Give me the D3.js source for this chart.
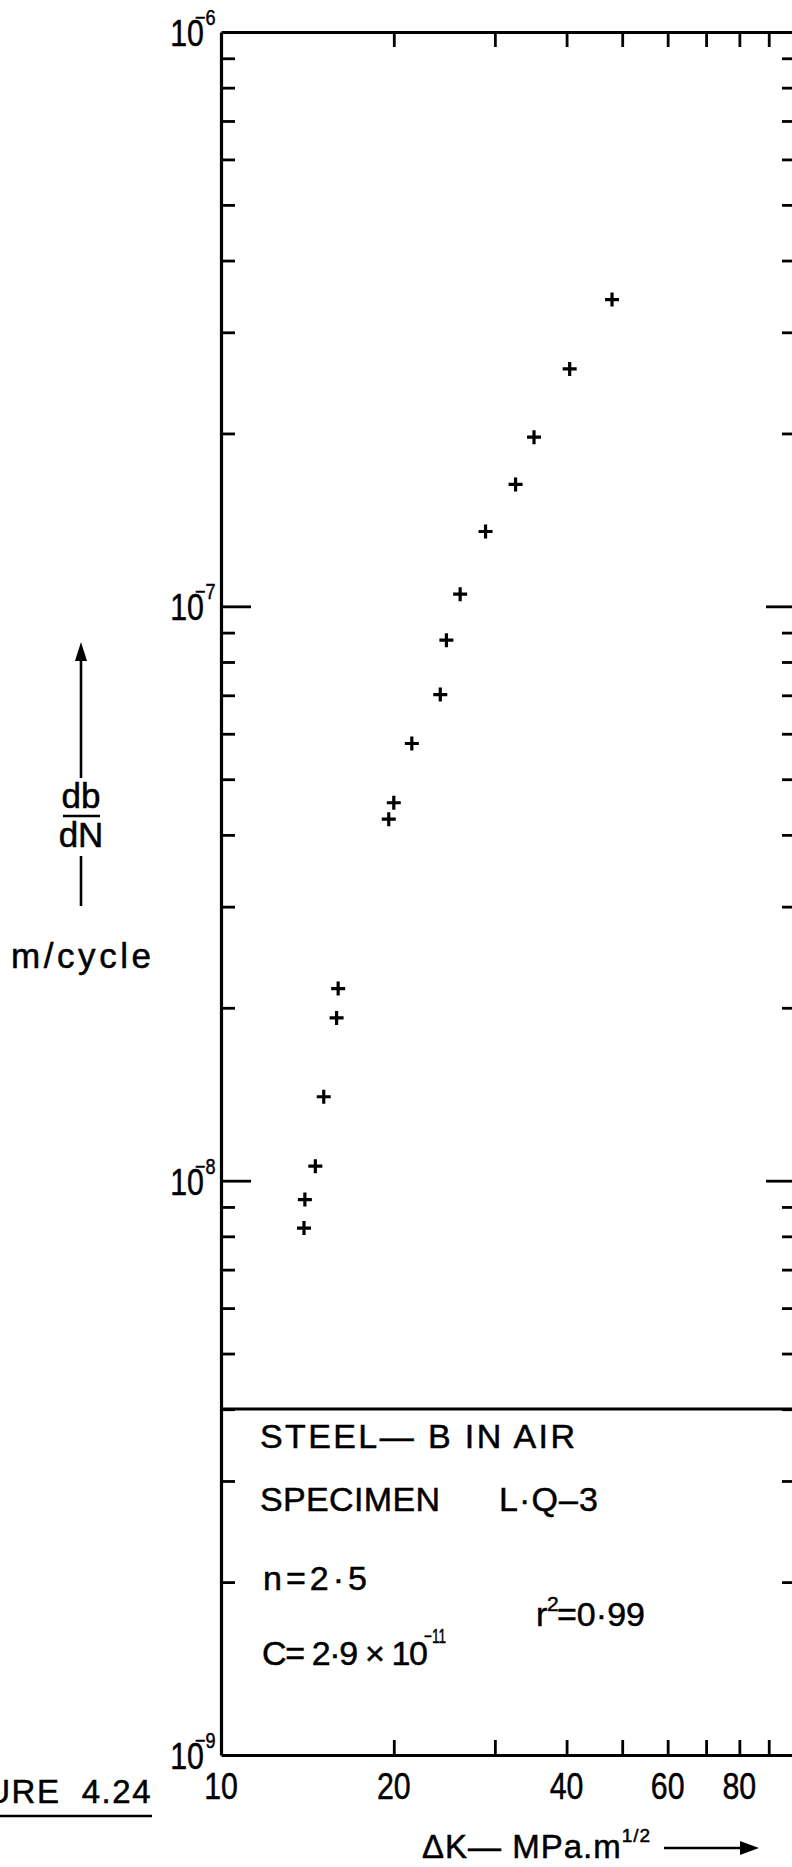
<!DOCTYPE html>
<html><head><meta charset="utf-8">
<script src="https://cdn.jsdelivr.net/npm/d3@7"></script>
<style>
html,body{margin:0;padding:0;background:#fff;}
svg{display:block;}
text{font-family:"Liberation Sans", Arial, sans-serif; fill:#000; stroke:#000; stroke-width:0.5;}
</style></head><body>
<svg id="chart" width="792" height="1867"></svg>
<script>
// Stress intensity range ΔK (MPa·m^1/2) and crack growth rate db/dN (m/cycle)
const deltaK = [48.0, 40.5, 35.1, 32.6, 28.9, 26.1, 24.7, 24.1, 21.5, 20.0, 19.6, 16.0, 15.9, 15.1, 14.6, 14.0, 13.95];
const growthRate = [3.42e-7, 2.59e-7, 1.97e-7, 1.63e-7, 1.35e-7, 1.05e-7, 8.73e-8, 7.02e-8, 5.77e-8, 4.55e-8, 4.26e-8, 2.16e-8, 1.92e-8, 1.40e-8, 1.06e-8, 9.27e-9, 8.27e-9];

// Axis labelling
const xTickLabels = [10, 20, 40, 60, 80];
const xMinorTicks = [20, 30, 40, 50, 60, 70, 80, 90];
const yDecadeExponents = [-6, -7, -8, -9];
const yMajorTicks = [1e-7, 1e-8];

// Fit summary text
const materialLine = "STEEL— B IN AIR";
const specimenName = "SPECIMEN";
const specimenId = "L·Q–3";
const exponentText = "n=2·5";
const coefficientText = "C= 2·9 × 10";
const coefficientPower = "−11";
const correlationValue = "=0·99";

const svg = d3.select("#chart");
const plotLeft = 221, plotRight = 795, plotTop = 32, plotBottom = 1755;

const x = d3.scaleLog().domain([10, 100]).range([plotLeft, plotRight]);
const y = d3.scaleLog().domain([1e-9, 1e-6]).range([plotBottom, plotTop]);

// minor ticks 2..9 in each decade of the rate axis
const yTicks = [];
[1e-9, 1e-8, 1e-7].forEach(d => { for (let k = 2; k <= 9; k++) yTicks.push(d * k); });
const yAllTicks = yTicks.concat(yMajorTicks);
const isMajor = v => yMajorTicks.some(m => Math.abs(v / m - 1) < 1e-6);

const axisStroke = 3.2;

function styleAxis(g) {
  g.select(".domain").attr("stroke", "#000").attr("stroke-width", axisStroke);
  g.selectAll(".tick line").attr("stroke", "#000").attr("stroke-width", 2.8);
  g.selectAll(".tick text").remove();
}

// left axis, ticks pointing into the plot
svg.append("g").attr("transform", `translate(${plotLeft},0)`)
  .call(d3.axisLeft(y).tickValues(yAllTicks).tickSizeInner(-14).tickSizeOuter(0).tickFormat(""))
  .call(styleAxis)
  .call(g => g.selectAll(".tick line").attr("x2", d => isMajor(d) ? 30 : 14));

// right axis
svg.append("g").attr("transform", `translate(${plotRight},0)`)
  .call(d3.axisRight(y).tickValues(yAllTicks).tickSizeInner(-13).tickSizeOuter(0).tickFormat(""))
  .call(styleAxis)
  .call(g => g.selectAll(".tick line").attr("x2", d => isMajor(d) ? -29 : -13));

// bottom axis, ticks pointing up
svg.append("g").attr("transform", `translate(0,${plotBottom})`)
  .call(d3.axisBottom(x).tickValues(xMinorTicks).tickSizeInner(-15).tickSizeOuter(0).tickFormat(""))
  .call(styleAxis);

// top axis, ticks pointing down
svg.append("g").attr("transform", `translate(0,${plotTop})`)
  .call(d3.axisTop(x).tickValues(xMinorTicks).tickSizeInner(-15).tickSizeOuter(0).tickFormat(""))
  .call(styleAxis);

// x tick labels
svg.append("g").selectAll("text").data(xTickLabels).join("text")
  .attr("transform", d => `translate(${x(d)},${plotBottom + 44}) scale(0.82,1)`)
  .attr("text-anchor", "middle")
  .attr("font-size", 37)
  .text(d => d);

// y decade labels: 10 with a raised negative exponent
const yLab = svg.append("g").selectAll("g").data(yDecadeExponents).join("g")
  .attr("transform", d => `translate(204,${y(Math.pow(10, d)) + 14})`);
yLab.append("text")
  .attr("transform", "scale(0.82,1)")
  .attr("text-anchor", "end")
  .attr("font-size", 37)
  .text("10");
yLab.append("text")
  .attr("transform", "translate(-9,-21) scale(0.82,1)")
  .attr("font-size", 22)
  .text(d => "−" + Math.abs(d));

// fit summary box
svg.append("line")
  .attr("x1", plotLeft).attr("x2", plotRight).attr("y1", 1409).attr("y2", 1409)
  .attr("stroke", "#000").attr("stroke-width", axisStroke);

const legend = svg.append("g").attr("font-size", 34);
legend.append("text").attr("x", 260).attr("y", 1448)
  .attr("textLength", 315).attr("lengthAdjust", "spacing").text(materialLine);
legend.append("text").attr("x", 260).attr("y", 1511)
  .attr("textLength", 180).attr("lengthAdjust", "spacing").text(specimenName);
legend.append("text").attr("x", 499).attr("y", 1511)
  .attr("textLength", 99).attr("lengthAdjust", "spacing").text(specimenId);
legend.append("text").attr("x", 263).attr("y", 1590)
  .attr("textLength", 104).attr("lengthAdjust", "spacing").text(exponentText);
legend.append("text").attr("x", 536).attr("y", 1626).text("r");
legend.append("text").attr("x", 547).attr("y", 1611).attr("font-size", 21).text("2");
legend.append("text").attr("x", 557).attr("y", 1626)
  .attr("textLength", 88).attr("lengthAdjust", "spacing").text(correlationValue);
legend.append("text").attr("x", 262).attr("y", 1665)
  .attr("textLength", 166).attr("lengthAdjust", "spacing").text(coefficientText);
legend.append("text").attr("x", 424).attr("y", 1643).attr("font-size", 20)
  .attr("textLength", 22).attr("lengthAdjust", "spacingAndGlyphs").text(coefficientPower);

// data points as plus markers
svg.append("g").selectAll("path").data(deltaK.map((k, i) => [k, growthRate[i]])).join("path")
  .attr("transform", d => `translate(${x(d[0])},${y(d[1])})`)
  .attr("d", "M-7,0H7M0,-7V7")
  .attr("stroke", "#000").attr("stroke-width", 3.2);

// vertical axis title
const yt = svg.append("g").attr("font-size", 35).attr("text-anchor", "middle");
yt.append("line").attr("x1", 81).attr("x2", 81).attr("y1", 778).attr("y2", 655)
  .attr("stroke", "#000").attr("stroke-width", 2.6);
yt.append("path").attr("d", "M81,642 L75,661 L87,661 Z").attr("fill", "#000");
yt.append("text").attr("x", 81).attr("y", 808).text("db");
yt.append("line").attr("x1", 63).attr("x2", 100).attr("y1", 816).attr("y2", 816)
  .attr("stroke", "#000").attr("stroke-width", 2.6);
yt.append("text").attr("x", 81).attr("y", 847).text("dN");
yt.append("line").attr("x1", 81).attr("x2", 81).attr("y1", 856).attr("y2", 906)
  .attr("stroke", "#000").attr("stroke-width", 2.6);
yt.append("text").attr("x", 81).attr("y", 968)
  .attr("textLength", 140).attr("lengthAdjust", "spacing").text("m/cycle");

// horizontal axis title with arrow
const xt = svg.append("g").attr("font-size", 33);
const xtt = xt.append("text").attr("x", 422).attr("y", 1858).attr("letter-spacing", 1);
xtt.append("tspan").text("ΔK— MPa.m");
xtt.append("tspan").attr("dy", -16).attr("font-size", 19).text("1/2");
xt.append("line").attr("x1", 664).attr("x2", 745).attr("y1", 1848).attr("y2", 1848)
  .attr("stroke", "#000").attr("stroke-width", 2.6);
xt.append("path").attr("d", "M759,1848 L740,1841 L740,1855 Z").attr("fill", "#000");

// figure caption, running off the left edge
svg.append("text").attr("x", 152).attr("y", 1803).attr("text-anchor", "end")
  .attr("font-size", 33).attr("letter-spacing", 1.5).attr("xml:space", "preserve")
  .text("FIGURE  4.24");
svg.append("line").attr("x1", 0).attr("x2", 152).attr("y1", 1816).attr("y2", 1816)
  .attr("stroke", "#000").attr("stroke-width", 2.6);
</script>
</body></html>
